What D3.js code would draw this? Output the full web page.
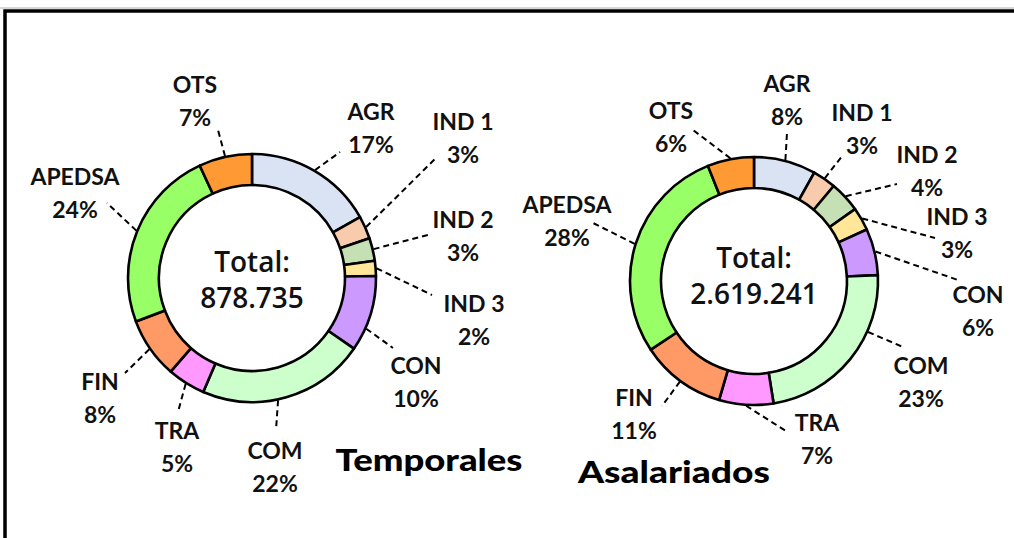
<!DOCTYPE html>
<html>
<head>
<meta charset="utf-8">
<script src="https://cdn.jsdelivr.net/npm/d3@7"></script>
<style>
  body { margin: 0; background: #fff; overflow: hidden; }
  svg { display: block; }
</style>
</head>
<body>
<div id="chart"></div>
<script>
var svgWidth = 1014;
var svgHeight = 538;

// Data (percent shares, clockwise from 12 o'clock)
var categories = ["AGR", "IND 1", "IND 2", "IND 3", "CON", "COM", "TRA", "FIN", "APEDSA", "OTS"];
var temporalesPct = [17, 3, 3, 2, 10, 22, 5, 8, 24, 7];
var asalariadosPct = [8, 3, 4, 3, 6, 23, 7, 11, 28, 6];
var totals = ["878.735", "2.619.241"];
var chartTitles = ["Temporales", "Asalariados"];

var sliceColors = ["#dae3f3", "#f8cbad", "#c5e0b4", "#ffe699", "#cc99ff",
                   "#ccffcc", "#ff99ff", "#ff9966", "#99ff66", "#ff9933"];

// Layout: donut centres, label centres, leader end points (manual, like the original)
var layouts = [
    {
        cx: 252, cy: 278,
        totalY: [262, 297.5],
        title: { x: 429, y: 471, len: 187 },
        labels: [[371, 112], [463, 122], [463, 220], [474, 304], [416, 366],
                 [275, 451], [177, 431], [100, 382], [75, 177], [195, 85]],
        leaderEnd: [[340, 152], [437, 157], [428, 235], [432, 295], [393, 348],
                    [276, 430], [178, 412], [125, 373], [107, 203], [218, 130]],
        nudge: [0, 0, 0, 0, 7, 4, 0, 0, 0, 0]
    },
    {
        cx: 754, cy: 281,
        totalY: [257.5, 293.5],
        title: { x: 674, y: 483, len: 192 },
        labels: [[787, 84], [862, 113], [927, 155], [957, 217], [978, 295],
                 [921, 366], [817, 423], [634, 398], [567, 205], [671, 111]],
        leaderEnd: [[787, 133], [843, 155], [897, 184], [935, 238], [958, 280],
                    [903, 347], [786, 431], [662, 406], [593, 223], [693, 130]],
        nudge: [0, 0, 0, 0, 0, -15, 0, 0, 0, 0]
    }
];

var outerR = 124;
var innerR = 93;

var svg = d3.select("#chart")
    .append("svg")
    .attr("width", svgWidth)
    .attr("height", svgHeight);

// frame
svg.append("line")
    .attr("x1", 0).attr("x2", svgWidth)
    .attr("y1", 8).attr("y2", 8)
    .attr("stroke", "#b0b0b0")
    .attr("stroke-width", 1);

svg.append("rect")
    .attr("x", 5)
    .attr("y", 11)
    .attr("width", 1100)
    .attr("height", 600)
    .attr("fill", "none")
    .attr("stroke", "black")
    .attr("stroke-width", 3.5);

var pie = d3.pie().sort(null).value(d => d);
var arc = d3.arc().innerRadius(innerR).outerRadius(outerR);

var series = [temporalesPct, asalariadosPct];

series.forEach(function (values, ci) {
    var L = layouts[ci];
    var arcs = pie(values);

    var g = svg.append("g")
        .attr("transform", `translate(${L.cx}, ${L.cy})`);

    // leader lines
    arcs.forEach(function (a, i) {
        var ang = (a.startAngle + a.endAngle) / 2 + L.nudge[i] * Math.PI / 180;
        var r = outerR + 1;
        svg.append("line")
            .attr("x1", L.cx + r * Math.sin(ang))
            .attr("y1", L.cy - r * Math.cos(ang))
            .attr("x2", L.leaderEnd[i][0])
            .attr("y2", L.leaderEnd[i][1])
            .attr("stroke", "black")
            .attr("stroke-width", 2)
            .attr("stroke-dasharray", "6,4");
    });

    g.selectAll("path")
        .data(arcs)
        .enter()
        .append("path")
        .attr("d", arc)
        .attr("fill", (d, i) => sliceColors[i])
        .attr("stroke", "black")
        .attr("stroke-width", 2.6)
        .attr("stroke-linejoin", "round");

    // centre total
    g.append("text")
        .attr("x", 0)
        .attr("y", L.totalY[0] - L.cy + 10)
        .attr("text-anchor", "middle")
        .attr("font-family", "'Open Sans', sans-serif")
        .attr("font-weight", "600")
        .attr("font-size", "28px")
        .attr("fill", "#111")
        .text("Total:");
    g.append("text")
        .attr("x", 0)
        .attr("y", L.totalY[1] - L.cy + 10)
        .attr("text-anchor", "middle")
        .attr("font-family", "'Open Sans', sans-serif")
        .attr("font-weight", "600")
        .attr("font-size", "28px")
        .attr("fill", "#111")
        .text(totals[ci]);

    // category labels
    var lab = svg.selectAll(".lab" + ci)
        .data(arcs)
        .enter()
        .append("text")
        .classed("lab" + ci, true)
        .attr("text-anchor", "middle")
        .attr("font-family", "Lato, sans-serif")
        .attr("font-weight", "bold")
        .attr("font-size", "23px")
        .attr("fill", "#111");
    lab.append("tspan")
        .attr("x", (d, i) => L.labels[i][0])
        .attr("y", (d, i) => L.labels[i][1] + 8)
        .text((d, i) => categories[i]);
    lab.append("tspan")
        .attr("x", (d, i) => L.labels[i][0])
        .attr("y", (d, i) => L.labels[i][1] + 41)
        .text(d => d.data + "%");

    // chart title
    svg.append("text")
        .attr("x", L.title.x)
        .attr("y", L.title.y)
        .attr("text-anchor", "middle")
        .attr("font-family", "Lato, sans-serif")
        .attr("font-weight", "900")
        .attr("font-size", "31px")
        .attr("textLength", L.title.len)
        .attr("lengthAdjust", "spacingAndGlyphs")
        .attr("fill", "black")
        .text(chartTitles[ci]);
});
</script>
</body>
</html>
